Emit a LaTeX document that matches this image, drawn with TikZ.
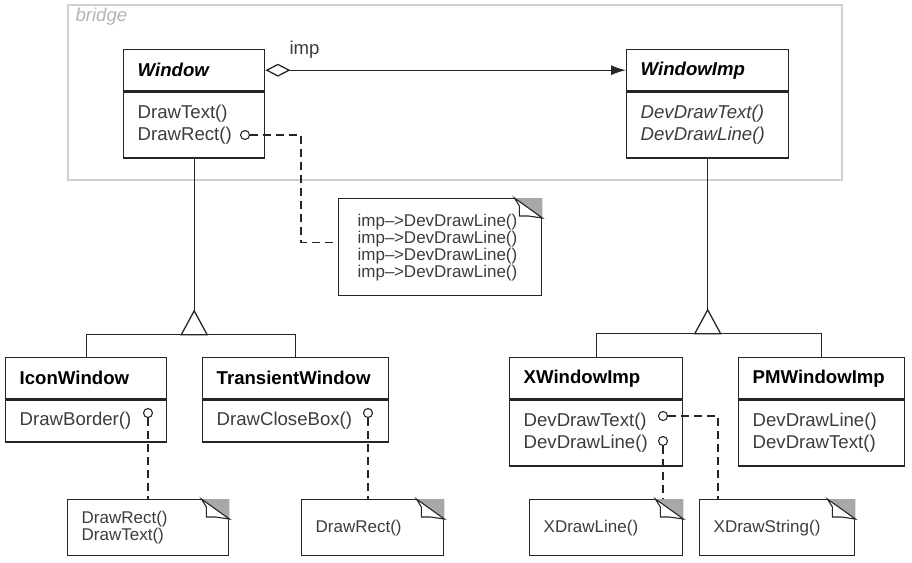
\documentclass[tikz,border=0pt]{standalone}
\usepackage{fontspec}
\setmainfont{Liberation Sans}
\usepackage{tikz}
\usetikzlibrary{arrows.meta,positioning,calc}

\definecolor{linec}{HTML}{262626}
\definecolor{textc}{HTML}{3C3C3C}
\definecolor{framec}{HTML}{D0D0D0}
\definecolor{bridgec}{HTML}{B4B4B4}
\definecolor{foldc}{HTML}{A8A8A8}

\newcommand{\memofont}{\fontsize{17}{17}\selectfont}

\begin{document}
\begin{tikzpicture}[
    x=1pt, y=-1pt,
    font=\fontsize{18.6}{22}\selectfont,
    ctitle/.style={draw=linec, line width=1.4pt, anchor=north west, inner xsep=14pt,
        inner ysep=0pt, minimum height=41pt, align=left, text=black},
    cbody/.style={draw=linec, line width=1.4pt, inner xsep=14pt, inner ysep=0pt,
        align=left, text=textc},
    memo/.style={draw=linec, line width=1.4pt, anchor=north west, inner xsep=14pt,
        inner ysep=0pt, minimum height=56pt, align=left, text=textc,
        font=\memofont},
    hook/.style={circle, draw=linec, line width=1.1pt, fill=white, inner sep=0pt,
        minimum size=9pt},
    conn/.style={draw=linec, line width=1.3pt},
    dep/.style={conn, dash pattern=on 8pt off 5pt}
]
\useasboundingbox (0,0) rectangle (912,562);

% Bridge frame
\draw[framec, line width=2.5pt] (68,5) rectangle (842,180);
\node[anchor=west, text=bridgec, font=\fontsize{18.6}{22}\selectfont\itshape] (brg) at (72,17) {bridge};

% Abstraction side
\node[ctitle, text width=113pt] (win) at (123,49) {\textbf{\textit{Window}}};
\node[cbody, text width=113pt, minimum height=66pt, below=0pt of win] (winb) {DrawText()\\DrawRect()};

\node[ctitle, text width=133pt] (icon) at (5,357) {\textbf{IconWindow}};
\node[cbody, text width=133pt, minimum height=42pt, below=0pt of icon] (iconb) {DrawBorder()};

\node[ctitle, text width=158pt] (trans) at (202,357) {\textbf{TransientWindow}};
\node[cbody, text width=158pt, minimum height=42pt, below=0pt of trans] (transb) {DrawCloseBox()};

% Implementation side
\node[ctitle, text width=134pt] (wimp) at (626,49) {\textbf{\textit{WindowImp}}};
\node[cbody, text width=134pt, minimum height=66pt, below=0pt of wimp] (wimpb) {\textit{DevDrawText()}\\\textit{DevDrawLine()}};

\node[ctitle, text width=145pt] (xwin) at (509,357) {\textbf{XWindowImp}};
\node[cbody, text width=145pt, minimum height=66pt, below=0pt of xwin] (xwinb) {DevDrawText()\\DevDrawLine()};

\node[ctitle, text width=138pt] (pmwin) at (738,357) {\textbf{PMWindowImp}};
\node[cbody, text width=138pt, minimum height=66pt, below=0pt of pmwin] (pmwinb) {DevDrawLine()\\DevDrawText()};

% Notes
\node[memo, text width=165pt, minimum height=97pt, inner xsep=19pt] (nimp) at (338,198)
    {imp--\kern-0.5pt>DevDrawLine()\\imp--\kern-0.5pt>DevDrawLine()\\imp--\kern-0.5pt>DevDrawLine()\\imp--\kern-0.5pt>DevDrawLine()};
\node[memo, text width=133pt] (nicon) at (67,499) {DrawRect()\\DrawText()};
\node[memo, text width=114pt] (nclose) at (301,499) {DrawRect()};
\node[memo, text width=125pt] (nline) at (529,499) {XDrawLine()};
\node[memo, text width=127pt] (nstr) at (699,499) {XDrawString()};

% Folded corners
\foreach \n in {nimp,nicon,nclose,nline,nstr} {
  \fill[foldc] ($(\n.north east)+(-28,0)$) -- (\n.north east) -- ++(0,20) -- cycle;
  \draw[linec, line width=1.1pt, fill=white] ($(\n.north east)+(-28,0)$) -- ++(5,8)
      -- ++(0,10) -- ++(9,0) -- ($(\n.north east)+(0,20)$) -- cycle;
}

% Aggregation imp
\draw[conn, {Diamond[open,length=25pt,width=13pt]}-{Latex[length=15pt,width=10pt]}]
    (win.east) -- (win.east -| wimp.west);
\node[anchor=west, text=textc] (implbl) at (286,50) {imp};

% Generalization, left
\coordinate (lt) at ($(winb.south)+(0,176)$);
\draw[conn] (icon.north) |- (lt) -| (trans.north);
\draw[conn] (winb.south) -- ++(0,152);
\draw[conn, fill=white] (lt) ++(-13,0) -- ++(13,-24) -- ++(13,24) -- cycle;

% Generalization, right
\coordinate (rt) at ($(wimpb.south)+(0,175)$);
\draw[conn] (xwin.north) |- (rt) -| (pmwin.north);
\draw[conn] (wimpb.south) -- ++(0,151);
\draw[conn, fill=white] (rt) ++(-13,0) -- ++(13,-24) -- ++(13,24) -- cycle;

% Method hooks
\node[hook] (pwin) at (245,135) {};
\node[hook] (picon) at (148,413) {};
\node[hook] (pclose) at (368,413) {};
\node[hook] (pxtext) at (663,416) {};
\node[hook] (pxline) at (663,441) {};

% Note links
\draw[dep] (pwin.east) -- ++(51,0) |- ($(nimp.west)+(0,-5)$);
\draw[dep] (picon) -- (picon |- nicon.north);
\draw[dep] (pclose) -- (pclose |- nclose.north);
\draw[dep] (pxline) -- (pxline |- nline.north);
\draw[dep] (pxtext.east) -| ($(nstr.north west)+(19,0)$);

\end{tikzpicture}
\end{document}
